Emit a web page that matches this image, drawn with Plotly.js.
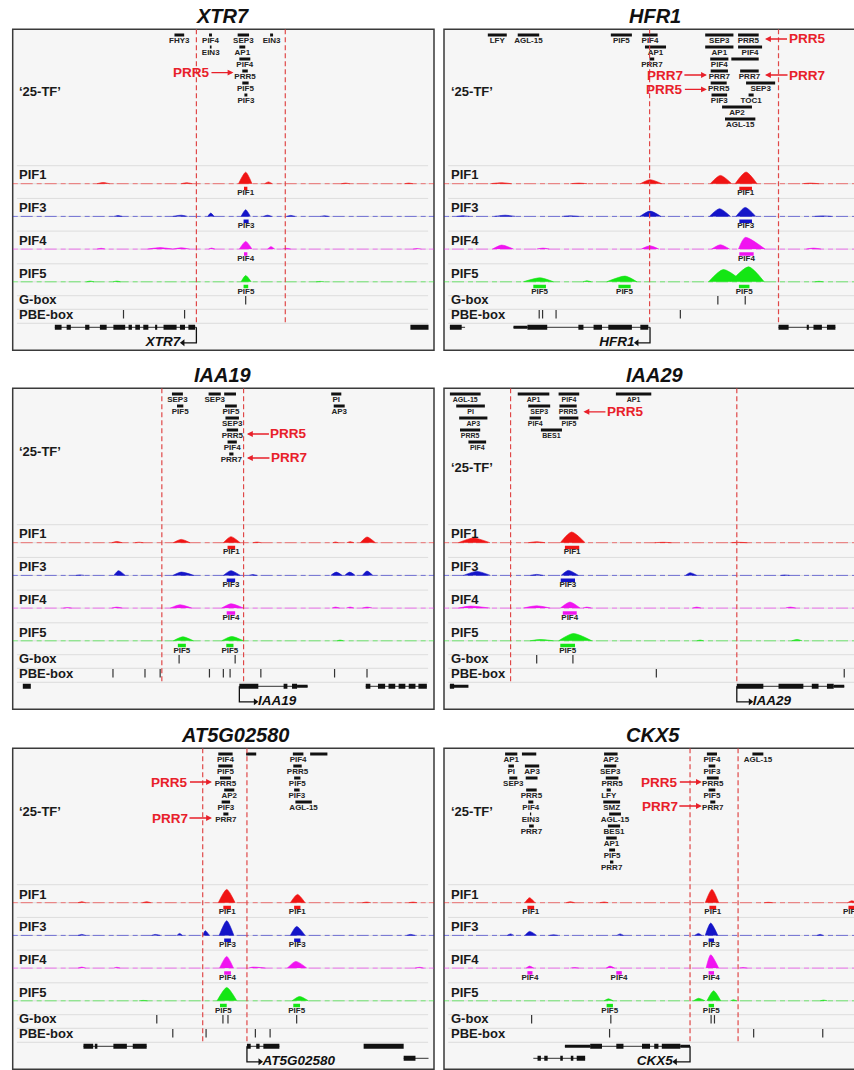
<!DOCTYPE html>
<html><head><meta charset="utf-8">
<script src="https://cdn.plot.ly/plotly-3.0.1.min.js"></script>
<style>html,body{margin:0;padding:0;background:#fff}#chart{width:854px;height:1070px}</style>
</head><body><div id="chart"></div>
<script>
// ---------------- DATA (positions in % of the genomic window) ----------------
const TRACK_NAMES = ['PIF1','PIF3','PIF4','PIF5'];

// XTR7
const XTR7_tf = [['FHY3',38.4,40.7,0],['PIF4',46.6,47.3,0],['EIN3',46.8,47.2,1],['SEP3',53.4,56.1,0],['EIN3',61.1,61.8,0],['AP1',53.8,55.2,1],['PIF4',53.8,56.4,2],['PRR5',54.5,55.8,3],['PIF5',54.5,56.0,4],['PIF3',55.0,55.7,5]];
const XTR7_arrows = [['PRR5',2.8,52.4,-1]];
const XTR7_peaks = [
  [[20,21.5,23,1.2],[40,41.3,42.6,1],[53.6,55.3,56.8,11.5],[59.8,60.7,61.6,1.8],[78,79,80,0.6],[93,94,95,0.6]],
  [[24,25,26,0.8],[38,40,41.5,1.2],[46.3,47.0,47.8,3.3],[54.2,55.3,56.4,6.7],[59.5,60.5,61.5,1.2],[65,66,67,1],[73,74,75,0.6]],
  [[20,21,22,0.8],[32,35,38,1.5],[38,40,42,1.3],[46.5,47.2,48,1],[53.8,55.3,56.8,7.7],[60.5,61.3,62.2,2.5],[64,65,66,0.8],[95,96,97,0.6]],
  [[17.5,18.4,19.3,0.7],[23.8,24.7,25.6,0.7],[54.2,55.3,56.6,6.3],[72,73,74,0.4]]
];
const XTR7_calls = [[[54.9,55.7]],[[54.8,56.0]],[[54.9,55.7]],[[54.8,55.9]]];
const XTR7_gbox = [55.3];
const XTR7_pbe = [26.3,40.8];
const XTR7_region = [43.6,64.7];
const XTR7_exons = [[10.0,11.6],[12.8,13.8],[17.2,18.2],[20.7,22.3],[23.9,26.7],[27.5,28.3],[29.1,30.2],[31.0,32.2],[33.8,34.3],[35.8,38.9],[39.7,40.9],[41.7,43.3],[94.4,98.7]];
const XTR7_utr = [];
const XTR7_introns = [[10.0,43.6]];
const XTR7_exons2 = [], XTR7_introns2 = [];
const XTR7_tss = [43.6,40.4,'XTR7'];

// HFR1
const HFR1_tf = [['LFY',10.4,14.9,0],['AGL-15',17.5,22.6,0],['PIF5',39.6,44.6,0],['PIF4',47.1,50.7,0],['AP1',47.7,52.7,1],['PRR7',48.8,49.9,2],['SEP3',62.0,68.7,0],['PRR5',69.8,74.7,0],['AP1',62.0,68.7,1],['PIF4',69.8,75.5,1],['PIF4',63.2,67.5,2],['',68.2,74.7,2],['PRR7',63.3,67.4,3],['PRR7',70.3,74.7,3],['PRR5',63.3,67.1,4],['SEP3',71.7,78.6,4],['PIF3',63.5,67.2,5],['TOC1',72.3,73.5,5],['AP2',66.0,73.1,6],['AGL-15',66.7,73.9,7]];
const HFR1_arrows = [['PRR5',0,76.2,1],['PRR7',3,62.4,-1],['PRR7',3,76.2,1],['PRR5',4.2,62.4,-1]];
const HFR1_peaks = [
  [[11,13.7,16,1],[30,32,34,0.6],[46.6,48.9,51.7,4],[63.2,65.6,68.3,8.3],[69.1,71.7,74.3,11.7],[85,87,89,0.6]],
  [[3,4.5,6,0.7],[12,14.5,17,1.2],[28,30,32,0.6],[46.5,48.9,51.5,5.3],[63,65.4,68,7.7],[69.3,71.5,74,9],[88,90,92,0.5]],
  [[11.5,13.7,16.5,4],[22,23.5,25,1],[46.8,48.9,51,3.3],[63.5,65.6,67.8,4.3],[69.9,71.5,76.2,11.7],[86,87.7,89.5,1]],
  [[18.8,22.8,26,4],[33,33.9,35,1],[38.6,43.0,45.8,5.7],[62.8,66.3,71,12.3],[68,72.3,76,15],[88,89,90,0.5]]
];
const HFR1_calls = [[[70.1,73.1]],[[70.1,73.1]],[[70.1,73.5]],[[21.2,24.2],[41.4,44.3],[70.0,72.5]]];
const HFR1_gbox = [65.0,71.5];
const HFR1_pbe = [22.6,23.4,26.6,56.1];
const HFR1_region = [48.8,79.4];
const HFR1_exons = [[1.4,4.2],[19.8,24.5],[31.9,33.1],[35.5,37.5],[39.0,44.6],[46.6,48.5],[79.4,81.8],[86.1,86.6],[87.7,89.7],[90.9,92.9]];
const HFR1_utr = [[16.5,19.8]];
const HFR1_introns = [[1.4,5.0],[16.5,48.9],[79.4,92.9]];
const HFR1_exons2 = [], HFR1_introns2 = [];
const HFR1_tss = [48.9,45.8,'HFR1'];

// IAA19
const IAA19_tf = [['SEP3',37.8,40.4,0],['PIF5',39.0,40.5,1],['SEP3',46.5,49.4,0],['',50.2,53.0,0],['PIF5',50.4,53.2,1],['SEP3',50.5,53.7,2],['PRR5',50.8,53.5,3],['PIF4',51.0,53.2,4],['PRR7',51.4,52.4,5],['PI',75.6,78.0,0],['AP3',76.2,78.8,1]];
const IAA19_arrows = [['PRR5',3,55.6,1],['PRR7',5,55.6,1]];
const IAA19_peaks = [
  [[23.5,24.7,26,1.2],[29,30,31,0.5],[38.1,40.0,42.1,3.3],[50.0,51.8,54.0,6],[57,58,59,0.6],[76,76.6,77.3,0.7],[79.3,80.1,81,1],[82.5,84.1,86.1,5.7]],
  [[15,16,17,0.5],[24.0,25.1,26.7,4.7],[38,40.0,43,3.3],[50.0,51.8,54.0,4.7],[56,57,58,0.8],[75.5,76.8,78.2,3.3],[78.8,80.0,81.3,3.3],[83,84.1,85.5,4.3]],
  [[12,13,14,0.5],[23.5,24.7,26,1],[37.4,39.7,42.5,3.3],[49.6,51.8,54.8,4.3],[75.8,76.6,77.6,1],[79.2,80.1,81,1],[83,84.1,85.4,1]],
  [[38.1,40.4,42.9,4],[49.6,52.0,54.8,4.3],[77,77.7,78.5,0.7]]
];
const IAA19_calls = [[[51.0,52.8]],[[50.8,52.8]],[[50.8,52.8]],[[39.2,41.1],[50.7,52.4]]];
const IAA19_gbox = [39.5,52.8];
const IAA19_pbe = [23.8,31.4,35.0,46.7,50.0,51.6,58.9,76.4,84.1];
const IAA19_region = [35.4,54.8];
const IAA19_exons = [[2.4,4.3],[53.8,58.3],[64.3,65.2],[66.3,67.5],[83.8,84.9],[86.7,88.4],[89.2,90.8],[91.6,93.2],[94.0,95.6],[96.3,98.3]];
const IAA19_utr = [[67.5,70.0]];
const IAA19_introns = [[53.8,70.0],[83.8,98.3]];
const IAA19_exons2 = [], IAA19_introns2 = [];
const IAA19_tss = [53.8,57.6,'IAA19'];

// IAA29
const IAA29_tf = [['AGL-15',1.4,8.7,0],['PI',2.9,9.7,1],['AP3',3.6,10.3,2],['PRR5',3.8,8.6,3],['PIF4',5.8,10.0,4],['AP1',17.5,25.0,0],['SEP3',20.0,25.2,1],['PIF4',20.3,23.0,2],['BES1',23.0,28.0,3],['PIF4',27.2,32.1,0],['PRR5',27.4,31.5,1],['PIF5',27.4,31.9,2],['AP1',40.8,49.2,0]];
const IAA29_arrows = [['PRR5',1.15,33.1,1]];
const IAA29_peaks = [
  [[3.4,7.0,10.9,4.7],[20,22.0,24,1],[27.6,30.3,33.5,10.7],[50,52,54,0.4],[68,70,72,0.4]],
  [[4.6,7.8,11,4],[20.5,22,23.5,1],[27.8,29.5,31.9,5],[57.3,58.4,60.0,2.7],[80,81,82,0.4]],
  [[3.4,6.2,10.9,2],[18.8,22.0,25.2,2.3],[27.6,29.9,32.3,6],[33,33.9,35,1],[59,60,61,1],[81,82.2,83.5,1]],
  [[20.4,22.8,26.0,1.3],[27.2,30.7,35.1,7.3],[60,60.8,61.6,0.7],[82.5,83.8,85,1.3]]
];
const IAA29_calls = [[[28.7,32.1]],[[27.7,31.1]],[[28.2,31.5]],[[27.6,31.1]]];
const IAA29_gbox = [22.0,30.6];
const IAA29_pbe = [50.4,95.0];
const IAA29_region = [15.8,69.5];
const IAA29_exons = [[1.4,2.4],[69.5,75.8],[79.4,85.3],[87.3,88.9],[90.9,92.5]];
const IAA29_utr = [[1.4,5.8],[92.5,95.0]];
const IAA29_introns = [[69.5,95.0]];
const IAA29_exons2 = [], IAA29_introns2 = [];
const IAA29_tss = [69.5,72.7,'IAA29'];

// AT5G02580
const AT5G02580_tf = [['PIF4',48.8,52.2,0],['PIF5',48.8,52.2,1],['PRR5',49.2,51.8,2],['AP2',50.2,52.6,3],['PIF3',49.6,51.6,4],['PRR7',50.0,51.2,5],['',55.4,57.8,0],['PIF4',66.5,69.0,0],['',70.6,74.7,0],['PRR5',66.6,68.6,1],['PIF5',66.8,68.3,2],['PIF3',66.8,68.1,3],['AGL-15',67.1,71.0,4]];
const AT5G02580_arrows = [['PRR5',2,47.3,-1],['PRR7',5,47.3,-1]];
const AT5G02580_peaks = [
  [[15.5,16.4,17.3,1],[30.8,31.8,32.8,1],[48.8,50.8,52.8,13.3],[65.9,67.6,69.4,8.3],[83,84,85,0.6],[94,95,96,0.6]],
  [[15.5,16.4,17.3,1],[33,33.8,35,1],[39,39.6,40.3,2],[45.1,45.7,46.7,4.7],[49.0,50.8,52.5,14.7],[65.9,67.4,69.4,9],[93.5,94.4,95.5,1]],
  [[15.5,16.4,17.3,1],[24,24.7,25.5,0.8],[49.1,50.8,52.4,11.7],[56,57,60,1],[65.2,67.2,69.8,6.7],[95.5,96.6,97.5,0.8]],
  [[30,31,32,0.4],[48.5,50.8,53.2,13.3],[66.3,68.1,70.2,4.3]]
];
const AT5G02580_calls = [[[50.0,51.8],[66.8,68.3]],[[50.2,51.8],[66.8,68.3]],[[50.2,51.8]],[[49.2,50.8],[66.6,68.2]]];
const AT5G02580_gbox = [34.2,49.9,51.1,67.4];
const AT5G02580_pbe = [38.0,45.9,57.6,61.1];
const AT5G02580_region = [45.1,55.6];
const AT5G02580_exons = [[16.8,19.1],[19.5,20.1],[23.9,27.1],[28.5,31.8],[55.6,56.5],[57.8,58.6],[59.5,63.3],[83.3,92.8]];
const AT5G02580_utr = [];
const AT5G02580_introns = [[16.8,31.8],[55.6,63.3]];
const AT5G02580_exons2 = [[92.8,95.6]];
const AT5G02580_introns2 = [[92.8,98.7]];
const AT5G02580_tss = [55.6,58.7,'AT5G02580'];

// CKX5
const CKX5_tf = [['AP1',14.5,17.4,0],['',18.5,21.9,0],['PI',15.3,16.6,1],['AP3',19.2,22.6,1],['SEP3',15.5,17.4,2],['',19.4,22.2,2],['PRR5',19.5,22.0,3],['PIF4',20.0,21.2,4],['EIN3',20.4,20.7,5],['PRR7',20.2,21.3,6],
  ['AP2',38.0,41.2,0],['SEP3',38.0,40.9,1],['PRR5',38.4,41.4,2],['LFY',38.6,39.6,3],['SMZ',37.8,41.8,4],['AGL-15',39.2,42.0,5],['BES1',38.9,41.8,6],['AP1',38.5,41.0,7],['PIF5',39.2,40.6,8],['PRR7',39.4,40.2,9],
  ['PIF4',62.4,64.8,0],['PIF3',62.8,64.4,1],['PRR5',62.4,65.2,2],['PIF5',62.8,64.4,3],['PRR7',63.2,64.4,4],['AGL-15',73.2,75.8,0]];
const CKX5_arrows = [['PRR5',2,61.2,-1],['PRR7',4,61.2,-1]];
const CKX5_peaks = [
  [[19.2,20.3,21.6,5],[29,30,31,1],[37,38,39,0.7],[62.0,63.6,65.2,13.3],[76,77,78,0.4],[95.8,96.8,98,2]],
  [[15,15.8,16.6,1.5],[19.2,20.3,22,4],[25,26,27,0.6],[41,41.8,42.6,1.5],[59.5,60.4,61.2,2],[62.0,63.3,65.0,12.3],[88.5,89.3,90,1]],
  [[19.5,20.3,21.3,2],[30,31,32,0.6],[38.5,39.4,40.5,2],[62.2,63.3,65.2,13.3],[70,71,72,0.6]],
  [[38,39.0,40.2,2],[59.2,60.4,62,2.5],[62.4,64.0,65.7,10],[68,68.7,69.5,1],[89.3,90.1,91,0.7]]
];
const CKX5_calls = [[[19.8,21.4],[63.0,64.6],[96.0,97.4]],[[62.8,64.1]],[[19.8,21.0],[40.9,42.2],[62.8,64.1]],[[38.6,40.1],[62.8,64.1]]];
const CKX5_gbox = [20.8,39.6,63.4,64.2];
const CKX5_pbe = [39.3,73.5,89.9];
const CKX5_region = [58.4,69.8];
const CKX5_exons = [[34.7,37.5],[40.9,42.6],[47.0,48.9],[49.9,50.9],[51.7,56.1]];
const CKX5_utr = [[28.7,34.7],[56.1,58.4]];
const CKX5_introns = [[28.7,58.4]];
const CKX5_exons2 = [[22.2,23.0],[23.8,24.6],[27.6,28.2],[30.1,30.7],[31.5,33.5]];
const CKX5_introns2 = [[21.2,33.5]];
const CKX5_tss = [58.4,54.9,'CKX5'];

// ---------------- LAYOUT / STYLE ----------------
const FONT = 'Liberation Sans, Arial, Helvetica, sans-serif';
const W = 854, H = 1070;
const TRACK_COLORS = ['#f01414','#1414c8','#f014f0','#14e614'];
const PANEL_H = 321, PANEL_TOPS = [29.3, 388.3, 748.3], COL_LEFT = [12.7, 444], PX = 4.213;
const TITLE_CX = [222.7, 655, 222.7, 655, 235, 653.3];
const TF25_Y = [62.4, 62.4, 63.4, 79.4, 63.4, 63.4];
const TFLABEL_SIZE = [8, 8, 8, 7, 8, 8];
const TF_BAR_Y0 = 5.7, TF_ROW = 12, TF_LABEL_DY = 6.4, ARROW_DY = 4;
const TRACK_TOP0 = 136.4, TRACK_PITCH = 32.7, BASE_DY = 18, CALL_DY = 22.8, CALLTXT_DY = 27.8, TLABEL_DY = 9.3;
const GBOX_Y = 271, PBE_Y = 285, LOWER_SEPS = [266.4, 280, 294];
const GENE_Y = [298, 310], GENE_LABEL_Y = 313.5, REGION_Y1 = 294;

const PANELS = [
  ['XTR7', XTR7_tf, XTR7_arrows, XTR7_peaks, XTR7_calls, XTR7_gbox, XTR7_pbe, XTR7_region, XTR7_exons, XTR7_utr, XTR7_introns, XTR7_exons2, XTR7_introns2, XTR7_tss],
  ['HFR1', HFR1_tf, HFR1_arrows, HFR1_peaks, HFR1_calls, HFR1_gbox, HFR1_pbe, HFR1_region, HFR1_exons, HFR1_utr, HFR1_introns, HFR1_exons2, HFR1_introns2, HFR1_tss],
  ['IAA19', IAA19_tf, IAA19_arrows, IAA19_peaks, IAA19_calls, IAA19_gbox, IAA19_pbe, IAA19_region, IAA19_exons, IAA19_utr, IAA19_introns, IAA19_exons2, IAA19_introns2, IAA19_tss],
  ['IAA29', IAA29_tf, IAA29_arrows, IAA29_peaks, IAA29_calls, IAA29_gbox, IAA29_pbe, IAA29_region, IAA29_exons, IAA29_utr, IAA29_introns, IAA29_exons2, IAA29_introns2, IAA29_tss],
  ['AT5G02580', AT5G02580_tf, AT5G02580_arrows, AT5G02580_peaks, AT5G02580_calls, AT5G02580_gbox, AT5G02580_pbe, AT5G02580_region, AT5G02580_exons, AT5G02580_utr, AT5G02580_introns, AT5G02580_exons2, AT5G02580_introns2, AT5G02580_tss],
  ['CKX5', CKX5_tf, CKX5_arrows, CKX5_peaks, CKX5_calls, CKX5_gbox, CKX5_pbe, CKX5_region, CKX5_exons, CKX5_utr, CKX5_introns, CKX5_exons2, CKX5_introns2, CKX5_tss]
];

const traces = [], annotations = [], shapes = [];
const layout = {
  width: W, height: H, margin: {l:0, r:0, t:0, b:0},
  paper_bgcolor: '#ffffff', plot_bgcolor: 'rgba(0,0,0,0)',
  showlegend: false, font: {family: FONT, color: '#1a1a1a'}
};

function segs(list, y) {
  const x = [], yy = [];
  list.forEach(s => { x.push(s[0], s[1], null); yy.push(y, y, null); });
  return {x, y: yy};
}

PANELS.forEach((p, i) => {
  const [gene, tf, arrows, peaks, calls, gbox, pbe, region, exons, utr, introns, exons2, introns2, tss] = p;
  const r = Math.floor(i / 2), c = i % 2;
  const sfx = i === 0 ? '' : String(i + 1);
  const xa = 'x' + sfx, ya = 'y' + sfx;
  const left = COL_LEFT[c], top = PANEL_TOPS[r];
  const xMax = c === 0 ? 100 : (W - left) / PX;
  layout['xaxis' + sfx] = {domain: [left / W, c === 0 ? (left + 100 * PX) / W : 1], range: [0, xMax], visible: false, fixedrange: true, anchor: ya};
  layout['yaxis' + sfx] = {domain: [Math.max(0, (H - top - PANEL_H) / H), (H - top) / H], range: [PANEL_H, 0], visible: false, fixedrange: true, anchor: xa};
  const base = {xaxis: xa, yaxis: ya, hoverinfo: 'skip', showlegend: false};

  // panel frame
  shapes.push({type: 'rect', xref: 'paper', yref: 'paper', layer: 'below',
    x0: left / W, x1: c === 0 ? (left + 100 * PX) / W : 1.05,
    y0: (H - top - PANEL_H) / H, y1: (H - top) / H,
    fillcolor: '#f6f6f6', line: {color: '#3a3a3a', width: 1.5}});
  // separators
  const sepYs = [];
  for (let t = 0; t < 4; t++) { const tt = TRACK_TOP0 + t * TRACK_PITCH; sepYs.push(tt, tt + BASE_DY); }
  LOWER_SEPS.forEach(v => sepYs.push(v));
  sepYs.forEach(v => shapes.push({type: 'line', xref: xa, yref: ya, layer: 'below', x0: 1, x1: c === 0 ? 98.6 : xMax, y0: v, y1: v, line: {color: '#dddddd', width: 1}}));

  // title
  annotations.push({xref: 'paper', yref: 'paper', x: TITLE_CX[i] / W, y: 1 - (top - 13.2) / H, xanchor: 'center', yanchor: 'middle',
    text: '<b><i>' + gene + '</i></b>', showarrow: false, font: {family: FONT, size: 20, color: '#111'}});
  // left labels
  annotations.push({xref: xa, yref: ya, x: 1.1, y: TF25_Y[i], xanchor: 'left', yanchor: 'middle', showarrow: false,
    text: '<b>\u201825-TF\u2019</b>', font: {family: FONT, size: 13, color: '#1a1a1a'}});
  TRACK_NAMES.forEach((nm, t) => annotations.push({xref: xa, yref: ya, x: 1.1, y: TRACK_TOP0 + t * TRACK_PITCH + TLABEL_DY, xanchor: 'left', yanchor: 'middle', showarrow: false,
    text: '<b>' + nm + '</b>', font: {family: FONT, size: 13, color: '#1a1a1a'}}));
  annotations.push({xref: xa, yref: ya, x: 1.1, y: GBOX_Y - 0.5, xanchor: 'left', yanchor: 'middle', showarrow: false, text: '<b>G-box</b>', font: {family: FONT, size: 13, color: '#1a1a1a'}});
  annotations.push({xref: xa, yref: ya, x: 1.1, y: PBE_Y, xanchor: 'left', yanchor: 'middle', showarrow: false, text: '<b>PBE-box</b>', font: {family: FONT, size: 13, color: '#1a1a1a'}});

  // signal tracks
  peaks.forEach((list, t) => {
    const b = TRACK_TOP0 + t * TRACK_PITCH + BASE_DY;
    traces.push(Object.assign({type: 'scatter', mode: 'lines', x: [0, xMax], y: [b, b],
      line: {color: TRACK_COLORS[t], width: 1, dash: '5px,3px,12px,4px'}, opacity: 0.55}, base));
    const x = [], y = [];
    list.forEach(pk => { x.push(pk[0], pk[1], pk[2], null); y.push(b, b - pk[3], b, null); });
    traces.push(Object.assign({type: 'scatter', mode: 'lines', x, y, fill: 'toself', fillcolor: TRACK_COLORS[t],
      line: {color: TRACK_COLORS[t], width: 0.6, shape: 'spline', smoothing: 0.7}}, base));
    const cy = TRACK_TOP0 + t * TRACK_PITCH + CALL_DY;
    const cs = segs(calls[t], cy);
    traces.push(Object.assign({type: 'scatter', mode: 'lines', x: cs.x, y: cs.y, line: {color: TRACK_COLORS[t], width: 3.5}}, base));
    traces.push(Object.assign({type: 'scatter', mode: 'text', x: calls[t].map(s => (s[0] + s[1]) / 2),
      y: calls[t].map(() => TRACK_TOP0 + t * TRACK_PITCH + CALLTXT_DY), text: calls[t].map(() => '<b>' + TRACK_NAMES[t] + '</b>'),
      textposition: 'middle center', textfont: {family: FONT, size: 8, color: '#222'}}, base));
  });

  // TF binding sites
  const bx = [], by = [];
  tf.forEach(f => { const yy = TF_BAR_Y0 + TF_ROW * f[3]; bx.push(f[1], f[2], null); by.push(yy, yy, null); });
  traces.push(Object.assign({type: 'scatter', mode: 'lines', x: bx, y: by, line: {color: '#111', width: 3}}, base));
  const lab = tf.filter(f => f[0] !== '');
  traces.push(Object.assign({type: 'scatter', mode: 'text', x: lab.map(f => (f[1] + f[2]) / 2),
    y: lab.map(f => TF_BAR_Y0 + TF_ROW * f[3] + TF_LABEL_DY), text: lab.map(f => '<b>' + f[0] + '</b>'),
    textposition: 'middle center', textfont: {family: FONT, size: TFLABEL_SIZE[i], color: '#222'}}, base));
  arrows.forEach(a => annotations.push({xref: xa, yref: ya, x: a[2], y: TF_BAR_Y0 + TF_ROW * a[1] + ARROW_DY,
    ax: a[3] * 42, ay: 0, text: '<b>' + a[0] + '</b>', showarrow: true, arrowhead: 2, arrowsize: 0.9, arrowwidth: 1.3,
    arrowcolor: '#e8202a', standoff: 0, font: {family: FONT, size: 13.5, color: '#e8202a'}}));

  // motifs
  traces.push(Object.assign({type: 'scatter', mode: 'markers', x: gbox, y: gbox.map(() => GBOX_Y),
    marker: {symbol: 'line-ns', size: 6, line: {width: 1.2, color: '#333'}}}, base));
  traces.push(Object.assign({type: 'scatter', mode: 'markers', x: pbe, y: pbe.map(() => PBE_Y),
    marker: {symbol: 'line-ns', size: 6, line: {width: 1.2, color: '#333'}}}, base));

  // promoter region
  traces.push(Object.assign({type: 'scatter', mode: 'lines', x: [region[0], region[0], null, region[1], region[1]],
    y: [0, REGION_Y1, null, 0, REGION_Y1], line: {color: '#e04848', width: 1.2, dash: '5px,3px'}}, base));

  // gene models
  [[introns, GENE_Y[0]], [introns2, GENE_Y[1]]].forEach(([lst, gy]) => { const s = segs(lst, gy);
    traces.push(Object.assign({type: 'scatter', mode: 'lines', x: s.x, y: s.y, line: {color: '#333', width: 1}}, base)); });
  { const s = segs(utr, GENE_Y[0]);
    traces.push(Object.assign({type: 'scatter', mode: 'lines', x: s.x, y: s.y, line: {color: '#111', width: 3}}, base)); }
  [[exons, GENE_Y[0]], [exons2, GENE_Y[1]]].forEach(([lst, gy]) => { const s = segs(lst, gy);
    traces.push(Object.assign({type: 'scatter', mode: 'lines', x: s.x, y: s.y, line: {color: '#111', width: 5}}, base)); });
  const plus = tss[1] > tss[0];
  traces.push(Object.assign({type: 'scatter', mode: 'lines', x: [tss[0], tss[0], tss[1]], y: [GENE_Y[0], GENE_LABEL_Y, GENE_LABEL_Y],
    line: {color: '#111', width: 1.3}}, base));
  traces.push(Object.assign({type: 'scatter', mode: 'markers', x: [tss[1]], y: [GENE_LABEL_Y],
    marker: {symbol: plus ? 'triangle-right' : 'triangle-left', size: 6, color: '#111'}}, base));
  traces.push(Object.assign({type: 'scatter', mode: 'text', x: [tss[1] + (plus ? 0.6 : -0.6)], y: [GENE_LABEL_Y],
    text: ['<b><i>' + tss[2] + '</i></b>'], textposition: plus ? 'middle right' : 'middle left',
    textfont: {family: FONT, size: 13.5, color: '#111'}}, base));
});

layout.annotations = annotations;
layout.shapes = shapes;
Plotly.newPlot('chart', traces, layout, {staticPlot: true, displayModeBar: false});
</script></body></html>
